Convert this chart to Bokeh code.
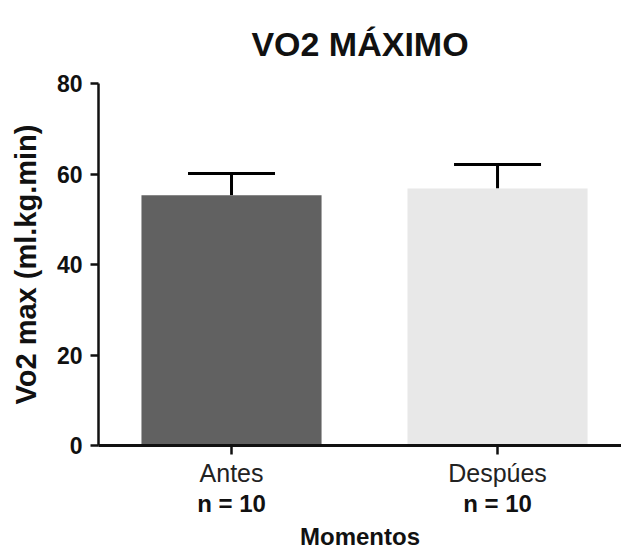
from bokeh.plotting import figure
from bokeh.models import Range1d, FixedTicker, LinearAxis, Whisker, ColumnDataSource, TeeHead
from bokeh.embed import file_html
from bokeh.resources import INLINE

title_text = "VO2 MÁXIMO"
categories = ["Antes", "Despúes"]
means = [55.3, 56.8]
errors = [4.8, 5.3]
n_values = [10, 10]
colors = ["#616161", "#e8e8e8"]
y_ticks = [0, 20, 40, 60, 80]

xs = [i + 1 for i in range(len(categories))]
upper = [m + e for m, e in zip(means, errors)]

src = ColumnDataSource(dict(x=xs, top=means, upper=upper, color=colors))

FONT = "Liberation Sans"

p = figure(width=621, height=552, output_backend="svg", toolbar_location=None,
           x_range=Range1d(0.5, 2.466), y_range=Range1d(0, 80),
           min_border_left=98, min_border_right=0, min_border_top=83, min_border_bottom=106,
           title=title_text)
p.outline_line_color = None
p.xgrid.visible = False
p.ygrid.visible = False

p.title.align = "center"
p.title.text_font = FONT
p.title.text_font_size = "34px"
p.title.text_font_style = "bold"
p.title.text_color = "#111111"
p.title.standoff = 41

p.vbar(x="x", top="top", bottom=0, width=0.677, fill_color="color", line_color=None, source=src)

w = Whisker(source=src, base="x", lower="top", upper="upper", line_width=3, line_color="black",
            upper_head=TeeHead(size=87, line_width=3, line_color="black"), lower_head=None)
p.add_layout(w)

# y axis
ya = p.yaxis[0]
ya.ticker = FixedTicker(ticks=y_ticks)
ya.minor_tick_line_color = None
ya.major_tick_in = 0
ya.major_tick_out = 8
ya.major_tick_line_width = 2.5
ya.axis_line_width = 2.5
ya.axis_line_color = "#111111"
ya.major_tick_line_color = "#111111"
ya.major_label_text_font = FONT
ya.major_label_text_font_style = "bold"
ya.major_label_text_font_size = "23px"
ya.major_label_text_color = "#111111"
ya.major_label_standoff = 8
ya.axis_label = "Vo2 max (ml.kg.min)"
ya.axis_label_text_font = FONT
ya.axis_label_text_font_style = "bold"
ya.axis_label_text_font_size = "29px"
ya.axis_label_text_color = "#111111"
ya.axis_label_standoff = 12

# x axis
xa = p.xaxis[0]
xa.ticker = FixedTicker(ticks=xs)
xa.major_label_overrides = {x: c for x, c in zip(xs, categories)}
xa.minor_tick_line_color = None
xa.major_tick_in = 0
xa.major_tick_out = 9
xa.major_tick_line_width = 2.5
xa.axis_line_width = 3
xa.axis_line_color = "#111111"
xa.major_tick_line_color = "#111111"
xa.major_label_text_font = FONT
xa.major_label_text_font_size = "25px"
xa.major_label_text_color = "#222222"
xa.major_label_standoff = 4

xa2 = LinearAxis(ticker=FixedTicker(ticks=xs),
                 major_label_overrides={x: f"n = {n}" for x, n in zip(xs, n_values)})
xa2.axis_line_color = None
xa2.major_tick_line_color = None
xa2.minor_tick_line_color = None
xa2.major_tick_out = 0
xa2.major_tick_in = 0
xa2.major_label_standoff = 0
xa2.major_label_text_font = FONT
xa2.major_label_text_font_style = "bold"
xa2.major_label_text_font_size = "24px"
xa2.major_label_text_color = "#111111"
xa2.axis_label = "Momentos"
xa2.axis_label_text_font = FONT
xa2.axis_label_text_font_style = "bold"
xa2.axis_label_text_font_size = "24px"
xa2.axis_label_text_color = "#111111"
xa2.axis_label_standoff = 3
p.add_layout(xa2, "below")

open("out.html", "w").write(file_html(p, INLINE))
